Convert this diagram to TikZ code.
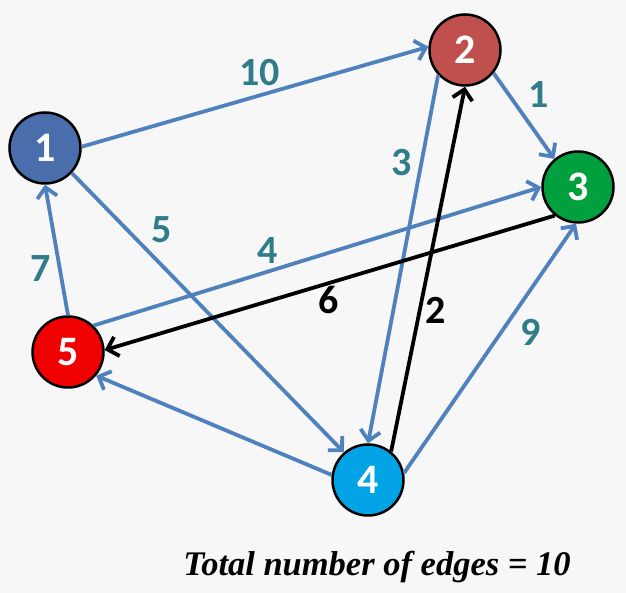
\documentclass[tikz,border=0pt]{standalone}
\usepackage{fontspec}
\setsansfont{Carlito}
\newfontfamily\titlefont{Liberation Serif}
\usetikzlibrary{arrows.meta}

\definecolor{bgcolor}{HTML}{F7F7F7}
\definecolor{arcblue}{HTML}{4F81BD}
\definecolor{wtcolor}{HTML}{2E7D88}
\definecolor{vone}{HTML}{4A6EAB}
\definecolor{vtwo}{HTML}{C0504D}
\definecolor{vthree}{HTML}{00A03E}
\definecolor{vfour}{HTML}{00A4E4}
\definecolor{vfive}{HTML}{F00000}

\begin{document}
\begin{tikzpicture}[x=1pt, y=1pt, auto,
    >={Straight Barb[length=10pt,width=20pt]},
    vertex/.style={circle, draw=black, line width=2.5pt, minimum size=71pt,
      inner sep=0pt, text=white, font=\sffamily\bfseries\fontsize{42}{42}\selectfont},
    arc/.style={every edge/.append style={->, draw=arcblue, line width=3.8pt}},
    heavy/.style={every edge/.append style={->, draw=black, line width=3.8pt}},
    weight/.style={text=wtcolor, inner sep=4pt,
      font=\sffamily\bfseries\fontsize{40}{40}\selectfont},
    blackweight/.style={weight, text=black}]
        \fill[bgcolor] (0,0) rectangle (626,593);
        \useasboundingbox (0,0) rectangle (626,593);

        \node[vertex, fill=vone]   (n1) at (45,445)  {1};
        \node[vertex, fill=vtwo]   (n2) at (465,543) {2};
        \node[vertex, fill=vthree] (n3) at (578,406) {3};
        \node[vertex, fill=vfour]  (n4) at (368,113) {4};
        \node[vertex, fill=vfive]  (n5) at (68,241)  {5};

        \path[arc]
        (n1.2)   edge node[weight, pos=.58, inner sep=1pt] {10} (n2.175)
        (n2.-39) edge node[weight, pos=.47] {1} (n3.130)
        (n2.223) edge node[weight, pos=.29, swap] {3} (n4.90)
        (n1.-43) edge node[weight, pos=.27] {5} (n4.131)
        (n5.90)  edge node[weight, pos=.5] {7} (n1.270)
        (n5.46)  edge node[weight, pos=.42, inner sep=2pt] {4} (n3.180)
        (n4.172) edge (n5.-40)
        (n4.11)  edge node[weight, pos=.64, swap] {9} (n3.267);

        \path[heavy]
        (n4.51)  edge node[blackweight, pos=.43, swap, inner sep=1pt] {2} (n2.270)
        (n3.231) edge node[blackweight, pos=.53, inner sep=0pt, yshift=3pt] {6} (n5.3);

        \node[font=\titlefont\bfseries\itshape\fontsize{34.5}{34.5}\selectfont]
          (total) at (377,26) {Total number of edges = 10};
\end{tikzpicture}
\end{document}
